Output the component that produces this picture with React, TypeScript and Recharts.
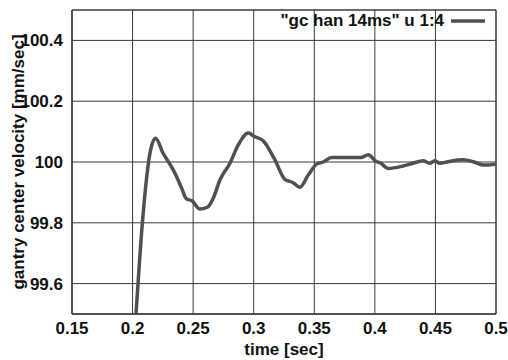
import React from "react";
import {
  LineChart,
  Line,
  XAxis,
  YAxis,
  CartesianGrid,
  Legend,
  ReferenceArea,
} from "recharts";

// sampled from the trace: time [sec] / velocity [mm/sec]
const times = [
  0.2, 0.2028, 0.2083, 0.2144, 0.219, 0.2253, 0.2303, 0.235, 0.2405, 0.2446,
  0.2488, 0.2556, 0.2617, 0.2666, 0.2721, 0.2804, 0.2872, 0.2955, 0.301,
  0.3078, 0.3175, 0.3257, 0.3326, 0.3381, 0.345, 0.3519, 0.3574, 0.3642,
  0.3794, 0.389, 0.3945, 0.4014, 0.4041, 0.411, 0.4233, 0.4316, 0.4398,
  0.4453, 0.4495, 0.4536, 0.4605, 0.4729, 0.4811, 0.4894, 0.5004,
];
const velocities = [
  99.34, 99.5, 99.81, 100.03, 100.078, 100.028, 99.996, 99.963, 99.914,
  99.878, 99.873, 99.845, 99.851, 99.881, 99.941, 99.996, 100.056, 100.095,
  100.083, 100.07, 100.007, 99.943, 99.932, 99.917, 99.957, 99.993, 100.0,
  100.015, 100.015, 100.015, 100.024, 100.001, 99.998, 99.979, 99.987, 99.996,
  100.004, 99.996, 100.004, 99.996, 100.001, 100.007, 100.001, 99.99, 99.993,
];
const xTicks = [0.15, 0.2, 0.25, 0.3, 0.35, 0.4, 0.45, 0.5];
const yTicks = [99.6, 99.8, 100, 100.2, 100.4];
const seriesName = '"gc han 14ms" u 1:4';

const data = times.map((t, i) => ({ t, v: velocities[i] }));

const FONT = "'Liberation Sans', Arial, sans-serif";
const INK = "#111";
const LINE = "#505050";
const GRID = "#3a3a3a";

const tickStyle = { fontFamily: FONT, fontSize: 17, fontWeight: 700, fill: INK };

const LegendBox = () => (
  <div style={{ display: "flex", alignItems: "center", fontFamily: FONT }}>
    <span style={{ fontSize: 17, fontWeight: 700, color: INK, lineHeight: "20px" }}>
      {seriesName}
    </span>
    <svg width={34} height={6} style={{ marginLeft: 7 }}>
      <line x1={0} y1={3} x2={34} y2={3} stroke={LINE} strokeWidth={3.5} />
    </svg>
  </div>
);

export default function App() {
  return (
    <div style={{ position: "absolute", left: 0, top: 0 }}>
      <LineChart
        width={508}
        height={360}
        data={data}
        margin={{ top: 10, right: 12, bottom: 0, left: 0 }}
      >
        <CartesianGrid stroke={GRID} strokeWidth={1} />
        <XAxis
          dataKey="t"
          type="number"
          domain={[0.15, 0.5]}
          ticks={xTicks}
          allowDataOverflow
          tickFormatter={(v: number) => String(v)}
          tick={tickStyle}
          tickLine={false}
          tickSize={0}
          tickMargin={8}
          axisLine={{ stroke: GRID }}
          height={46}
          label={{
            content: (p: any) => {
              const vb = p.viewBox;
              return (
                <text
                  x={vb.x + vb.width / 2}
                  y={vb.y + 41}
                  textAnchor="middle"
                  style={tickStyle}
                >
                  time [sec]
                </text>
              );
            },
          }}
        />
        <YAxis
          type="number"
          domain={[99.5, 100.5]}
          ticks={yTicks}
          allowDataOverflow
          tickFormatter={(v: number) => String(v)}
          tick={tickStyle}
          tickLine={false}
          tickSize={0}
          tickMargin={9}
          axisLine={{ stroke: GRID }}
          width={72}
          label={{
            content: (p: any) => {
              const vb = p.viewBox;
              const cx = vb.x + 18;
              const cy = vb.y + vb.height / 2;
              return (
                <text
                  x={cx}
                  y={cy}
                  transform={`rotate(-90, ${cx}, ${cy})`}
                  textAnchor="middle"
                  dominantBaseline="central"
                  style={tickStyle}
                >
                  gantry center velocity [mm/sec]
                </text>
              );
            },
          }}
        />
        <ReferenceArea
          x1={0.15}
          x2={0.5}
          y1={99.5}
          y2={100.5}
          fill="none"
          stroke={GRID}
          strokeWidth={1}
        />
        <Legend
          layout="horizontal"
          align="center"
          verticalAlign="middle"
          wrapperStyle={{ top: 11, left: "auto", right: 23, width: "auto" }}
          content={() => <LegendBox />}
        />
        <Line
          type="monotone"
          dataKey="v"
          stroke={LINE}
          strokeWidth={3.5}
          dot={false}
          isAnimationActive={false}
        />
      </LineChart>
    </div>
  );
}
